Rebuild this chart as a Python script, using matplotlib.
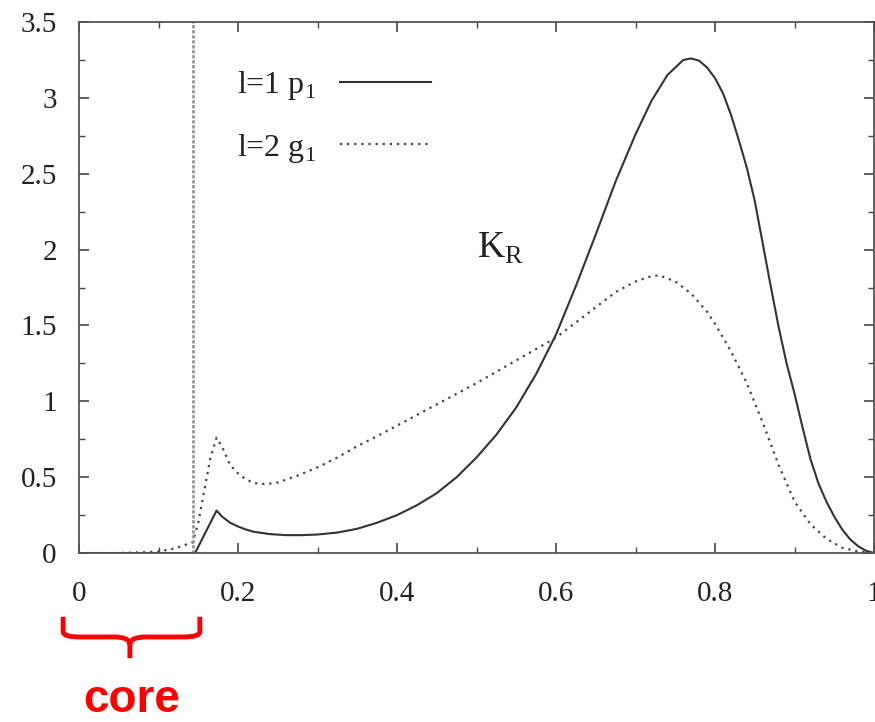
import numpy as np
import matplotlib
matplotlib.use("Agg")
import matplotlib.pyplot as plt
from matplotlib.path import Path
from matplotlib.patches import PathPatch
from matplotlib.ticker import MultipleLocator, FuncFormatter
import matplotlib.transforms as mtransforms

# ---- datos: K_R para los modos l=1 p1 y l=2 g1 ----
x_p1 = [0.0, 0.143, 0.146, 0.173, 0.18, 0.19, 0.20, 0.21, 0.22, 0.24, 0.26, 0.28,
        0.30, 0.325, 0.35, 0.375, 0.40, 0.425, 0.45, 0.475, 0.50, 0.525, 0.55,
        0.575, 0.60, 0.625, 0.65, 0.675, 0.70, 0.72, 0.74, 0.76, 0.77, 0.78,
        0.79, 0.80, 0.81, 0.82, 0.83, 0.84, 0.85, 0.86, 0.87, 0.88, 0.89, 0.90,
        0.91, 0.92, 0.93, 0.94, 0.95, 0.96, 0.97, 0.98, 0.99, 1.0]
k_p1 = [0.0, 0.0, 0.0, 0.28, 0.24, 0.20, 0.175, 0.155, 0.14, 0.125, 0.118, 0.118,
        0.122, 0.135, 0.16, 0.20, 0.25, 0.315, 0.395, 0.50, 0.63, 0.78, 0.96,
        1.18, 1.44, 1.76, 2.10, 2.45, 2.76, 2.98, 3.15, 3.25, 3.26, 3.245,
        3.20, 3.13, 3.03, 2.89, 2.72, 2.54, 2.32, 2.04, 1.76, 1.49, 1.25, 1.05,
        0.83, 0.62, 0.46, 0.34, 0.24, 0.155, 0.09, 0.045, 0.015, 0.0]

x_g1 = [0.0, 0.05, 0.08, 0.10, 0.12, 0.143, 0.15, 0.16, 0.165, 0.173, 0.18, 0.19,
        0.20, 0.21, 0.22, 0.23, 0.24, 0.25, 0.275, 0.30, 0.325, 0.35, 0.375, 0.40,
        0.45, 0.50, 0.55, 0.60, 0.65, 0.675, 0.70, 0.72, 0.73, 0.75, 0.77, 0.79,
        0.80, 0.82, 0.84, 0.86, 0.88, 0.90, 0.92, 0.94, 0.96, 0.98, 1.0]
k_g1 = [0.0, 0.0, 0.005, 0.01, 0.03, 0.07, 0.20, 0.48, 0.62, 0.76, 0.70, 0.58,
        0.525, 0.485, 0.462, 0.455, 0.458, 0.465, 0.51, 0.565, 0.63, 0.705, 0.77, 0.84,
        0.98, 1.12, 1.27, 1.42, 1.62, 1.72, 1.79, 1.825, 1.83, 1.79, 1.71, 1.59,
        1.51, 1.33, 1.12, 0.86, 0.58, 0.34, 0.19, 0.095, 0.035, 0.01, 0.0]

r_core = 0.143  # borde del núcleo

plt.rcParams['font.family'] = ['Liberation Serif', 'DejaVu Serif']
plt.rcParams['mathtext.fontset'] = 'custom'
plt.rcParams['mathtext.rm'] = 'Liberation Serif'

fig = plt.figure(figsize=(8.75, 7.22), dpi=100)
ax = fig.add_axes([0.0903, 0.234, 0.9086, 0.7355])

ax.plot(x_p1, k_p1, color='#333333', lw=1.5, label=r'l=1 p$_\mathregular{1}$')
ax.plot(x_g1, k_g1, color='#444444', lw=1.6, dashes=(1, 2.2),
        label=r'l=2 g$_\mathregular{1}$')
ax.axvline(r_core, color='#999999', lw=2.0, dashes=(1.2, 0.6))

ax.set_xlim(0, 1)
ax.set_ylim(0, 3.5)
ax.xaxis.set_major_locator(MultipleLocator(0.2))
ax.xaxis.set_minor_locator(MultipleLocator(0.1))
ax.yaxis.set_major_locator(MultipleLocator(0.5))
ax.yaxis.set_minor_locator(MultipleLocator(0.25))
fmt = FuncFormatter(lambda v, p: '%g' % round(v, 3))
ax.xaxis.set_major_formatter(fmt)
ax.yaxis.set_major_formatter(fmt)
ax.tick_params(which='both', direction='in', top=True, right=True,
               color='#444444', labelsize=21, labelcolor='#222222')
ax.tick_params(which='major', length=7, width=1.2)
ax.tick_params(which='minor', length=4, width=1.0)
ax.tick_params(axis='x', pad=20)
ax.tick_params(axis='y', pad=16)
for s in ax.spines.values():
    s.set_color('#555555')
    s.set_linewidth(1.3)

ax.text(0.5006, 1.945, r'K$_\mathregular{R}$', fontsize=27, color='#222222')

ax.legend(loc='upper left', bbox_to_anchor=(0.162, 0.966), frameon=False,
          markerfirst=False, fontsize=23, handlelength=2.85, handletextpad=0.75,
          labelspacing=0.93, labelcolor='#222222')

# llave roja bajo el eje para marcar el núcleo
trans = mtransforms.blended_transform_factory(ax.transData, ax.transAxes)
x0, x1, xm = -0.02, 0.152, 0.064
ytop, ymid, ytip = -0.12, -0.158, -0.198
verts = [(x0, ytop), (x0, ymid + 0.01), (x0, ymid), (x0 + 0.02, ymid),
         (xm - 0.02, ymid), (xm, ymid), (xm, ymid - 0.015), (xm, ytip),
         (xm, ymid - 0.015), (xm, ymid), (xm + 0.02, ymid),
         (x1 - 0.02, ymid), (x1, ymid), (x1, ymid + 0.01), (x1, ytop)]
codes = [Path.MOVETO, Path.LINETO, Path.CURVE3, Path.CURVE3,
         Path.LINETO, Path.CURVE3, Path.CURVE3, Path.LINETO,
         Path.MOVETO, Path.CURVE3, Path.CURVE3,
         Path.LINETO, Path.CURVE3, Path.CURVE3, Path.LINETO]
brace = PathPatch(Path(verts, codes), transform=trans, fill=False,
                  edgecolor='#ff0000', lw=3.5, clip_on=False, capstyle='butt')
ax.add_patch(brace)
ax.text(xm + 0.002, -0.277, 'core', transform=trans, ha='center', va='center',
        color='#ff0000', fontsize=33, fontweight='bold',
        family=['Liberation Sans', 'DejaVu Sans'])

fig.savefig('out.png', dpi=100)
